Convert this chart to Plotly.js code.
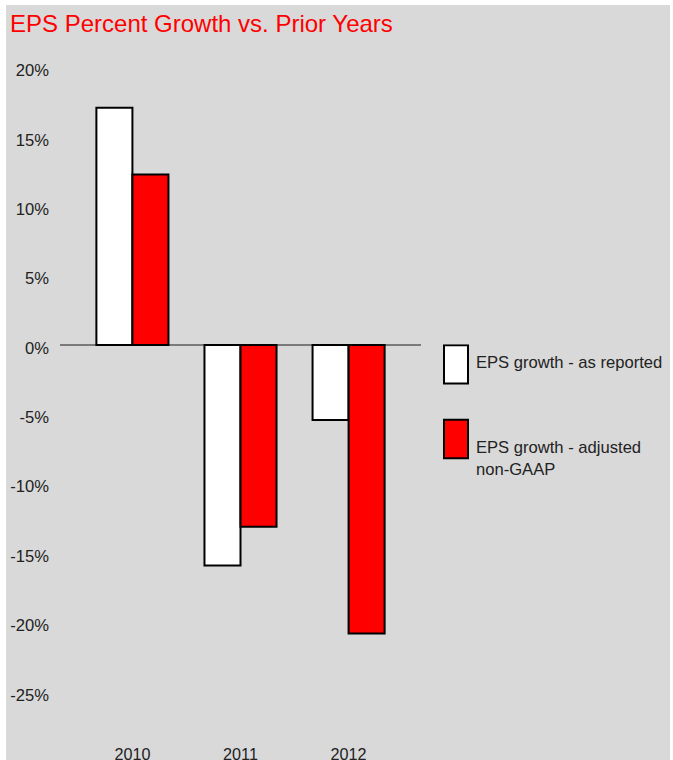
<!DOCTYPE html>
<html>
<head>
<meta charset="utf-8">
<script src="https://cdn.plot.ly/plotly-3.0.1.min.js"></script>
<style>
  html, body { margin: 0; padding: 0; background: #ffffff; }
  #chart { position: absolute; left: 6px; top: 5px; width: 664px; height: 755px; }
</style>
</head>
<body>
<div id="chart"></div>
<script>
const years = ['2010', '2011', '2012'];
const asReported = [17.1, -15.9, -5.4];
const adjustedNonGaap = [12.3, -13.1, -20.8];
const yTickValues = [20, 15, 10, 5, 0, -5, -10, -15, -20, -25];
const yTickLabels = ['20%', '15%', '10%', '5%', '0%', '-5%', '-10%', '-15%', '-20%', '-25%'];
const seriesNames = ['EPS growth - as reported', 'EPS growth - adjusted<br>non-GAAP'];

const FONT = '"Liberation Sans", Arial, sans-serif';

const traces = [
  {
    type: 'bar', x: years, y: asReported, name: seriesNames[0], legendgroup: 'a',
    marker: { color: '#ffffff', line: { color: '#000000', width: 2 } },
    hoverinfo: 'x+y'
  },
  {
    type: 'bar', x: years, y: adjustedNonGaap, name: seriesNames[1], legendgroup: 'b',
    marker: { color: '#ff0000', line: { color: '#000000', width: 2 } },
    hoverinfo: 'x+y'
  }
];

const layout = {
  width: 664, height: 755,
  paper_bgcolor: '#d9d9d9', plot_bgcolor: '#d9d9d9',
  margin: { l: 54, r: 249, t: 55, b: 17, autoexpand: false },
  font: { family: FONT, size: 16.6, color: '#222222' },
  title: {
    text: 'EPS Percent Growth vs. Prior Years',
    font: { family: FONT, size: 24, color: '#ff0000' },
    xref: 'container', yref: 'container',
    x: 4 / 664, xanchor: 'left', y: 0.975, yanchor: 'middle'
  },
  barmode: 'group', bargap: 1 / 3, bargroupgap: 0,
  xaxis: {
    type: 'category', range: [-0.67, 2.67],
    showgrid: false, zeroline: false, showline: false, ticks: '',
    tickfont: { family: FONT, size: 16.2, color: '#222222' }
  },
  yaxis: {
    range: [-28.7, 20.55],
    tickvals: yTickValues, ticktext: yTickLabels,
    showgrid: false, zeroline: true, zerolinecolor: '#7a7a7a', zerolinewidth: 2,
    showline: false, ticks: '', ticklabelstandoff: 10, ticklabelshift: 3,
    tickfont: { family: FONT, size: 16.6, color: '#222222' }
  },
  showlegend: true,
  legend: {
    x: 1.0415, xanchor: 'left', y: 0.584, yanchor: 'top',
    traceorder: 'grouped', tracegroupgap: 61, valign: 'top',
    bgcolor: 'rgba(0,0,0,0)', borderwidth: 0,
    font: { family: FONT, size: 16.6, color: '#222222' }
  }
};

Plotly.newPlot('chart', traces, layout, { displayModeBar: false, staticPlot: true }).then(function (gd) {
  const offsets = [3, -8];
  gd.querySelectorAll('.legend .legendpoints').forEach(function (g, i) {
    g.querySelectorAll('path').forEach(function (p) {
      const t = p.getAttribute('transform') || '';
      p.setAttribute('transform', t + ' translate(0,' + (offsets[i] || 0) + ') scale(2,3.2)');
      p.style.vectorEffect = 'non-scaling-stroke';
    });
  });
});
</script>
</body>
</html>
